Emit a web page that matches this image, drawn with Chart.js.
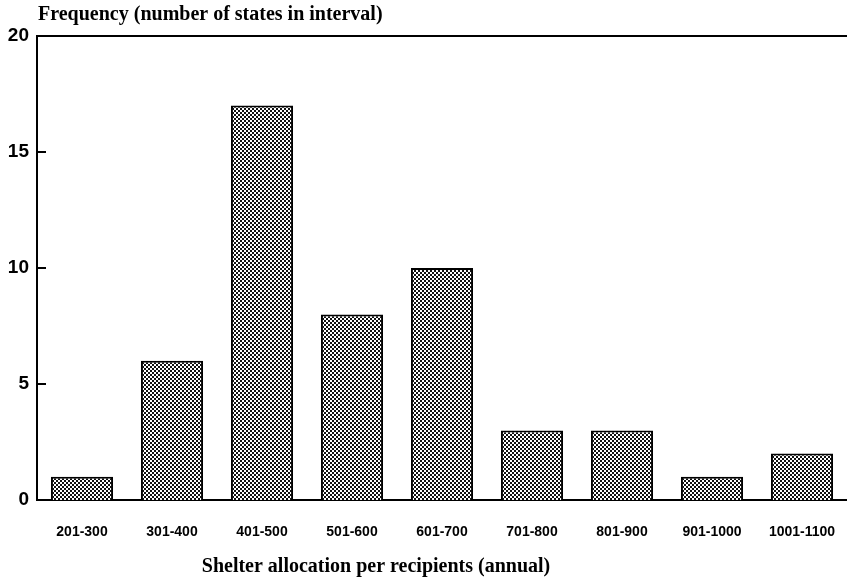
<!DOCTYPE html>
<html lang="en">
<head>
    <meta charset="UTF-8">
    <title>Shelter allocation per recipients</title>
    <script src="https://cdn.jsdelivr.net/npm/chart.js"></script>
    <style>
        html, body { margin: 0; padding: 0; background: #fff; }
        #wrap { width: 847px; height: 580px; position: relative; }
    </style>
</head>
<body>

<div id="wrap"><canvas id="shelterChart"></canvas></div>

<script>
    // Data
    var intervals = ['201-300', '301-400', '401-500', '501-600', '601-700', '701-800', '801-900', '901-1000', '1001-1100'];
    var stateCounts = [1, 6, 17, 8, 10, 3, 3, 1, 2];
    var yTicks = [0, 5, 10, 15, 20];
    var yTitle = 'Frequency (number of states in interval)';
    var xTitle = 'Shelter allocation per recipients (annual)';

    // dotted crosshatch fill like the scanned bars
    function hatch() {
        var c = document.createElement('canvas');
        c.width = 4; c.height = 4;
        var g = c.getContext('2d');
        g.fillStyle = '#fff';
        g.fillRect(0, 0, 4, 4);
        g.fillStyle = '#111';
        g.fillRect(0, 0, 2, 2);
        g.fillRect(2, 2, 2, 2);
        return g.createPattern(c, 'repeat');
    }

    // inward tick marks on the y axis + the two axis titles
    var extras = {
        id: 'extras',
        afterDraw: function(chart) {
            var ctx = chart.ctx, area = chart.chartArea, y = chart.scales.y;
            ctx.save();
            ctx.strokeStyle = '#000';
            ctx.lineWidth = 2;
            yTicks.forEach(function(v) {
                if (v === 0 || v === 20) return;
                var py = y.getPixelForValue(v);
                ctx.beginPath();
                ctx.moveTo(area.left, py);
                ctx.lineTo(area.left + 9, py);
                ctx.stroke();
            });
            ctx.fillStyle = '#000';
            ctx.textBaseline = 'middle';
            ctx.textAlign = 'left';
            ctx.font = 'bold 20px "Liberation Serif", serif';
            ctx.fillText(yTitle, area.left + 1, 15);
            ctx.textAlign = 'center';
            ctx.fillText(xTitle, 376, 567);
            ctx.restore();
        }
    };

    var ctx = document.getElementById('shelterChart').getContext('2d');
    var chart = new Chart(ctx, {
        type: 'bar',
        data: {
            labels: intervals,
            datasets: [{
                data: stateCounts,
                backgroundColor: hatch(),
                borderColor: '#000',
                borderWidth: 2,
                borderSkipped: 'bottom',
                categoryPercentage: 0.69,
                barPercentage: 1
            }]
        },
        options: {
            responsive: true,
            maintainAspectRatio: false,
            animation: false,
            layout: { padding: { top: 36, right: 0, left: 0, bottom: 0 } },
            plugins: {
                legend: { display: false },
                tooltip: { enabled: false }
            },
            scales: {
                x: {
                    grid: { display: true, drawOnChartArea: false, drawTicks: true, tickLength: 22, color: 'rgba(0,0,0,0)' },
                    border: { display: true, color: '#000', width: 2 },
                    ticks: {
                        color: '#000',
                        padding: 2,
                        maxRotation: 0,
                        autoSkip: false,
                        font: { family: '"Liberation Sans", Arial, sans-serif', size: 14, weight: 'bold' }
                    },
                    afterFit: function(s) { s.height = 80; }
                },
                top: {
                    type: 'category',
                    position: 'top',
                    labels: intervals,
                    grid: { display: false, drawTicks: false },
                    border: { display: true, color: '#000', width: 2 },
                    ticks: { display: false },
                    afterFit: function(s) { s.height = 0; }
                },
                y: {
                    min: 0,
                    max: 20,
                    afterBuildTicks: function(s) { s.ticks = yTicks.map(function(v) { return { value: v }; }); },
                    grid: { display: false, drawTicks: false },
                    border: { display: true, color: '#000', width: 2 },
                    ticks: {
                        color: '#000',
                        padding: 8,
                        font: { family: '"Liberation Sans", Arial, sans-serif', size: 19, weight: 'bold' }
                    },
                    afterFit: function(s) { s.width = 37; }
                }
            }
        },
        plugins: [extras]
    });
</script>

</body>
</html>
